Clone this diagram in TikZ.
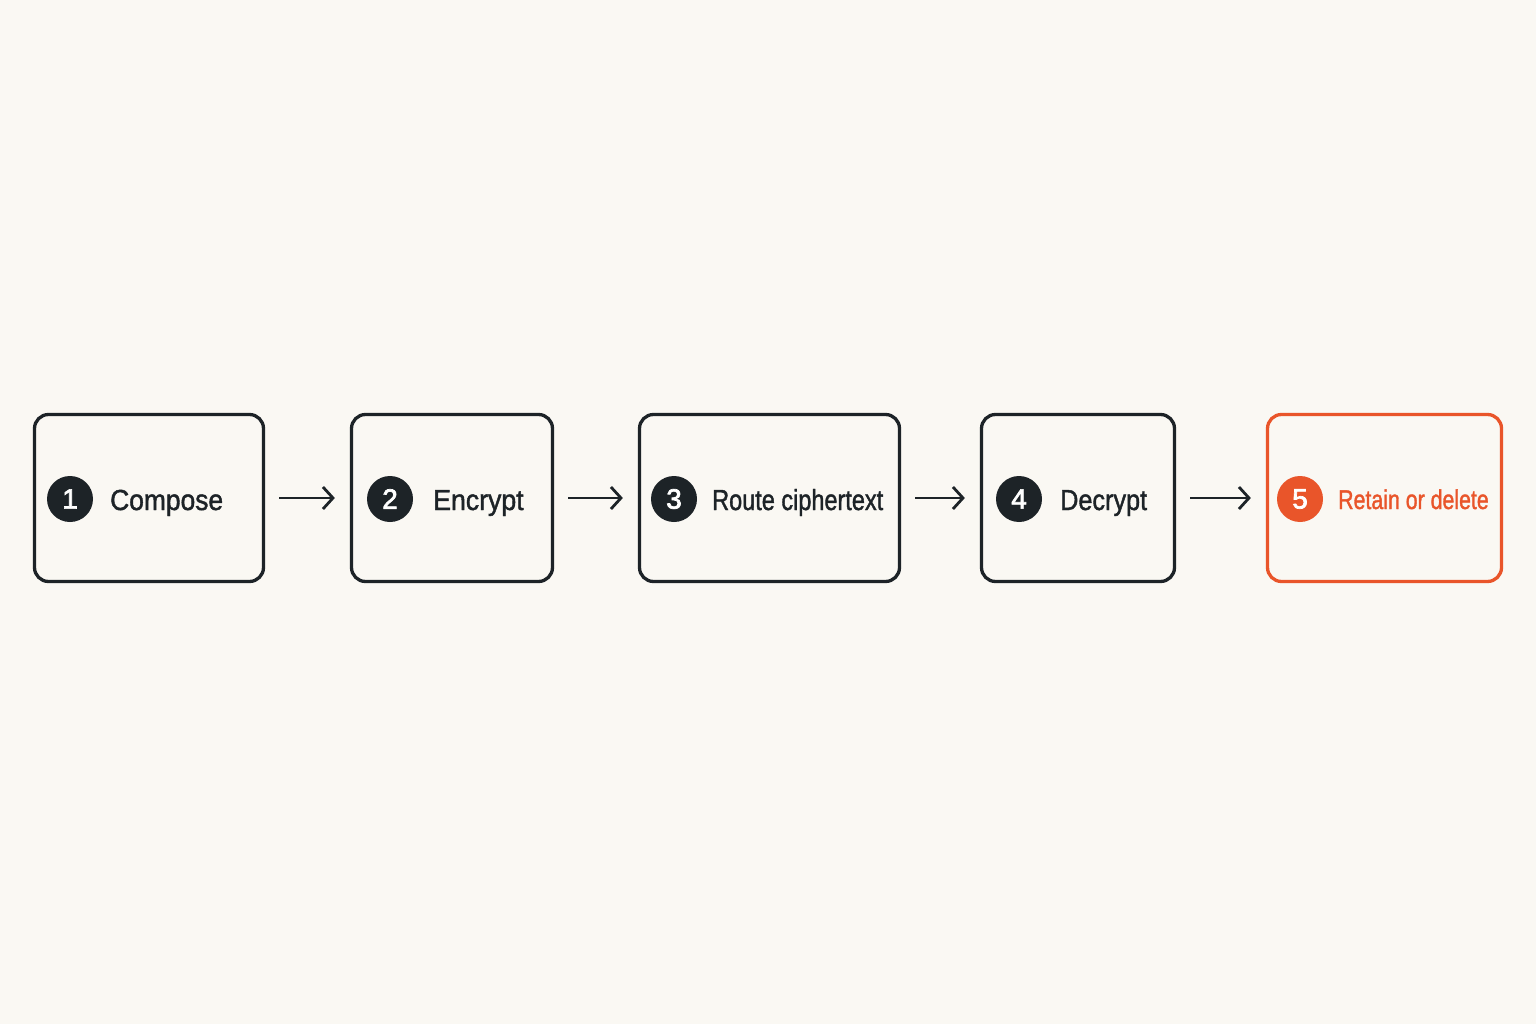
\documentclass[tikz,border=0pt]{standalone}
\usepackage{fontspec}
\setmainfont{Liberation Sans}
\newfontfamily\medfont[FakeBold=1.5]{Liberation Sans}
\newfontfamily\digfont[FakeBold=2.5]{Liberation Sans}
\usetikzlibrary{arrows.meta}
\definecolor{ink}{HTML}{1D2327}
\definecolor{accent}{HTML}{E9552A}
\definecolor{bg}{HTML}{FAF8F3}
\tikzset{
  box/.style={draw=ink, line width=3.3pt, rounded corners=14pt, minimum height=167pt, inner sep=0pt},
  num/.style={circle, fill=ink, text=white, minimum size=46pt, inner sep=0pt, font=\digfont\fontsize{28}{28}\selectfont},
  lab/.style={anchor=base west, inner sep=0pt, text=ink, font=\medfont\fontsize{29}{29}\selectfont},
  arr/.style={draw=ink, line width=2.8pt, -{Straight Barb[length=10pt,width=22pt,line width=2.8pt]}, shorten <=14pt, shorten >=15pt}
}
\begin{document}
\begin{tikzpicture}[x=1pt,y=-1pt]
\fill[bg] (0,0) rectangle (1536,1024);
\useasboundingbox (0,0) rectangle (1536,1024);
\node[box, minimum width=229pt] (b1) at (149,498) {};
\node[box, minimum width=201pt] (b2) at (452,498) {};
\node[box, minimum width=260pt] (b3) at (769.5,498) {};
\node[box, minimum width=193pt] (b4) at (1078,498) {};
\node[box, draw=accent, minimum width=234pt] (b5) at (1384.5,498) {};
\node[num] (n1) at (70,499) {1};
\node[num] (n2) at (390,499) {2};
\node[num] (n3) at (674,499) {3};
\node[num] (n4) at (1019,499) {4};
\node[num, fill=accent] (n5) at (1300,499) {5};
\node[lab] (t1) at (110,510) {\scalebox{0.91}[1]{Compose}};
\node[lab] (t2) at (433,510) {\scalebox{0.92}[1]{Encrypt}};
\node[lab] (t3) at (712,510) {\scalebox{0.81}[1]{Route ciphertext}};
\node[lab] (t4) at (1060,510) {\scalebox{0.87}[1]{Decrypt}};
\node[lab, text=accent, font=\medfont\fontsize{27}{27}\selectfont] (t5) at (1338,509) {\scalebox{0.79}[1]{Retain or delete}};
\draw[arr] (b1.east) -- (b2.west);
\draw[arr] (b2.east) -- (b3.west);
\draw[arr] (b3.east) -- (b4.west);
\draw[arr] (b4.east) -- (b5.west);
\end{tikzpicture}
\end{document}
